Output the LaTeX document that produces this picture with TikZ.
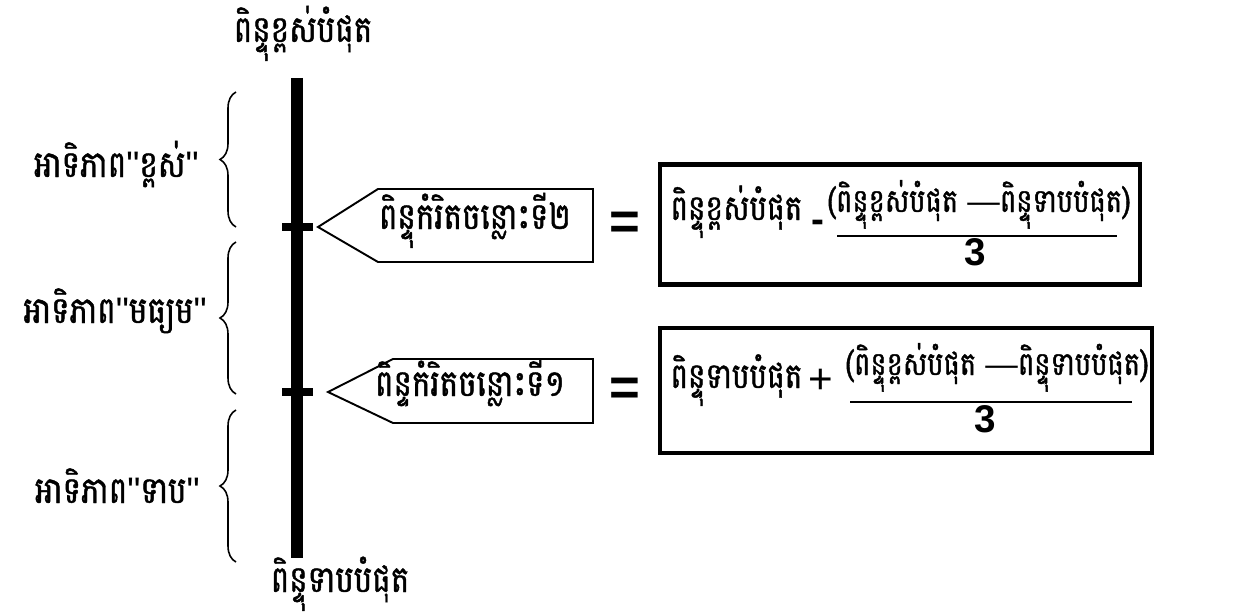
\documentclass[tikz,border=0pt]{standalone}
\usepackage{fontspec}
\newfontfamily\khmer[Script=Khmer, FakeStretch=0.84, FakeBold=1.2]{Battambang}
\newfontfamily\latin{Liberation Sans}
\usetikzlibrary{positioning,calc,decorations.pathreplacing}

\tikzset{
  lbl/.style={font=\khmer\fontsize{21}{24}\selectfont, inner sep=0pt},
  boxtxt/.style={font=\khmer\fontsize{20}{23}\selectfont, inner sep=0pt},
  numtxt/.style={font=\khmer\fontsize{18.5}{22}\selectfont, inner sep=0pt},
  sym/.style={font=\latin\bfseries\fontsize{22}{24}\selectfont, inner sep=0pt},
  brc/.style={decorate, decoration={brace, amplitude=0.32cm}, line width=0.9pt},
  ptr/.style={line width=1.1pt, line join=miter},
  fbox/.style={draw, line width=2.4pt, minimum width=9.6cm, minimum height=2.4cm, inner sep=0pt}
}

\begin{document}
\begin{tikzpicture}[x=0.02cm, y=-0.02cm]
  \useasboundingbox (0,0) rectangle (1239,615);

  % Scale bar
  \node[lbl, anchor=base] (hi) at (303,42) {ពិន្ទុខ្ពស់បំផុត};
  \node[lbl, anchor=base] (lo) at (340,592) {ពិន្ទុទាបបំផុត};
  \coordinate (bartop) at (297,78);
  \coordinate (barbot) at (297,558);
  \draw[line width=6.3pt] (bartop) -- (barbot);

  % Cut points
  \coordinate (t2) at (313,227);
  \coordinate (t1) at (313,392);
  \draw[line width=4.5pt] (282,227) -- (t2);
  \draw[line width=4.5pt] (282,392) -- (t1);

  % Braces
  \draw[brc] (236,227) -- (236,92);
  \draw[brc] (236,394) -- (236,242);
  \draw[brc] (236,562) -- (236,410);
  \node[lbl, anchor=base east] (pHigh) at (199,177) {អាទិភាព{\latin "}ខ្ពស់{\latin "}};
  \node[lbl, anchor=base east] (pMid) at (207,323) {អាទិភាព{\latin "}មធ្យម{\latin "}};
  \node[lbl, anchor=base east] (pLow) at (200,503) {អាទិភាព{\latin "}ទាប{\latin "}};

  % Pointers
  \draw[ptr] ($(t2)+(5,0)$) -- (378,189) -- (593,189) -- (593,262) -- (378,262) -- cycle;
  \node[lbl, anchor=base] (cut2) at (475,229) {ពិន្ទុកំរិតចន្លោះទី២};
  \draw[ptr] ($(t1)+(15,0)$) -- (393,359) -- (593,359) -- (593,423) -- (393,423) -- cycle;
  \node[lbl, anchor=base] (cut1) at (470,396) {ពិន្ទកំរិតចន្លោះទី១};

  % Equals
  \node[sym, font=\latin\bfseries\fontsize{30}{32}\selectfont] (eq2) at (625,226) {=};
  \node[sym, font=\latin\bfseries\fontsize{30}{32}\selectfont] (eq1) at (625,392) {=};

  % Formula for cut point 2
  \node[fbox] (f2) at (900,224.5) {};
  \node[boxtxt, anchor=base west] (f2a) at (670,220) {ពិន្ទុខ្ពស់បំផុត};
  \node[sym] (f2op) at (818,226) {-};
  \node[numtxt, anchor=base] (f2num) at (979,212) {(ពិន្ទុខ្ពស់បំផុត {\latin —}ពិន្ទុទាបបំផុត)};
  \draw[line width=1.6pt] (837,236) -- (1117,236);
  \node[sym, anchor=base] (f2den) at (975,265) {3};

  % Formula for cut point 1
  \node[fbox, minimum width=9.84cm, minimum height=2.5cm] (f1) at (906,390.5) {};
  \node[boxtxt, anchor=base west] (f1a) at (670,388) {ពិន្ទុទាបបំផុត};
  \node[sym, font=\latin\fontsize{24}{26}\selectfont] (f1op) at (821,381) {+};
  \node[numtxt, anchor=base] (f1num) at (997,375) {(ពិន្ទុខ្ពស់បំផុត {\latin —}ពិន្ទុទាបបំផុត)};
  \draw[line width=1.6pt] (850,402) -- (1132,402);
  \node[sym, anchor=base] (f1den) at (985,432) {3};
\end{tikzpicture}
\end{document}
